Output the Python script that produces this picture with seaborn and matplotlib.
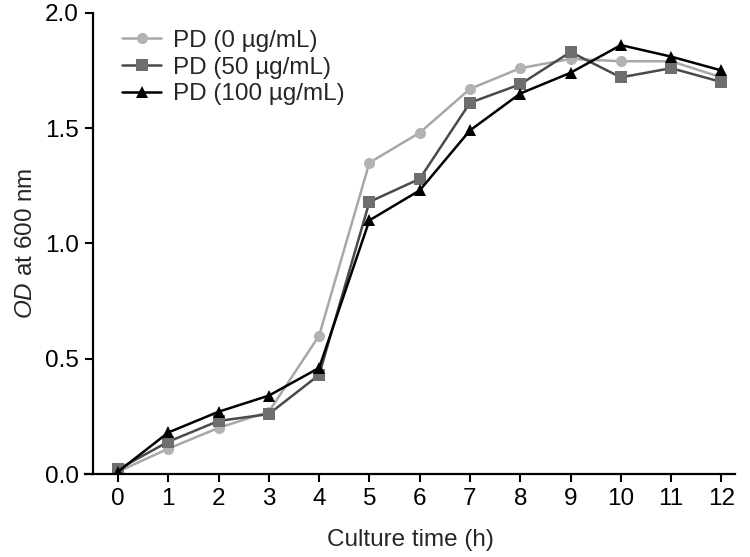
import pandas as pd
import numpy as np

import matplotlib
matplotlib.use("Agg")
import matplotlib.pyplot as plt
from matplotlib.ticker import FormatStrFormatter
import seaborn as sns

# Growth curve data (OD600)
hours = [0, 1, 2, 3, 4, 5, 6, 7, 8, 9, 10, 11, 12]
pd_0 = [0.01, 0.11, 0.20, 0.27, 0.60, 1.35, 1.48, 1.67, 1.76, 1.80, 1.79, 1.79, 1.72]
pd_50 = [0.02, 0.14, 0.23, 0.26, 0.43, 1.18, 1.28, 1.61, 1.69, 1.83, 1.72, 1.76, 1.70]
pd_100 = [0.01, 0.18, 0.27, 0.34, 0.46, 1.10, 1.23, 1.49, 1.65, 1.74, 1.86, 1.81, 1.75]
labels = ["PD (0 µg/mL)", "PD (50 µg/mL)", "PD (100 µg/mL)"]

sns.set_theme(style="ticks")
plt.rcParams['font.family'] = ['Liberation Sans', 'DejaVu Sans']
plt.rcParams['mathtext.fontset'] = 'custom'
plt.rcParams['mathtext.it'] = 'Liberation Sans:italic'
plt.rcParams['mathtext.rm'] = 'Liberation Sans'

# long-form table for seaborn
df = pd.concat([
    pd.DataFrame({'time': hours, 'od': vals, 'group': lab})
    for vals, lab in zip([pd_0, pd_50, pd_100], labels)
])

palette = {labels[0]: '#a8a8a8', labels[1]: '#4a4a4a', labels[2]: '#000000'}
markers = {labels[0]: 'o', labels[1]: 's', labels[2]: '^'}
face = ['#b2b2b2', '#6e6e6e', '#000000']

fig = plt.figure(figsize=(7.5, 5.57), dpi=100)
ax = fig.add_axes([0.1133, 0.149, 0.8667, 0.828])

sns.lineplot(data=df, x='time', y='od', hue='group', style='group',
             hue_order=labels, style_order=labels,
             palette=palette, markers=markers, dashes=False,
             markersize=8, linewidth=1.8, markeredgewidth=0, ax=ax)

# marker face colours a bit lighter than the lines for the grey series
for line, fc in zip(ax.lines[:3], face):
    line.set_markerfacecolor(fc)
    line.set_markeredgecolor(fc)

# x axis runs a little past the y axis, as in the original
ax.set_xlim(-0.656, 12.27)
ax.spines['left'].set_position(('data', -0.497))
ax.set_ylim(0, 2.0)
ax.set_xticks(hours)
ax.set_yticks([0, 0.5, 1.0, 1.5, 2.0])
ax.yaxis.set_major_formatter(FormatStrFormatter('%.1f'))
ax.tick_params(direction='out', length=6, width=1.5, labelsize=17.5,
               colors='black', pad=4)
for side in ['left', 'bottom']:
    ax.spines[side].set_linewidth(1.6)
    ax.spines[side].set_color('black')
ax.spines['top'].set_visible(False)
ax.spines['right'].set_visible(False)

ax.set_xlabel('Culture time (h)', fontsize=17.5, labelpad=14)
ax.set_ylabel(r'$\it{OD}$ at 600 nm', fontsize=17.5, labelpad=6)

leg = ax.legend(loc='upper left', bbox_to_anchor=(0.035, 0.995), frameon=False,
                fontsize=17.5, handlelength=1.6, handletextpad=0.5,
                labelspacing=0.2, borderaxespad=0.2)
for h, fc in zip(leg.legend_handles, face):
    h.set_markerfacecolor(fc)
    h.set_markeredgecolor(fc)

fig.savefig('out.png', dpi=100)
